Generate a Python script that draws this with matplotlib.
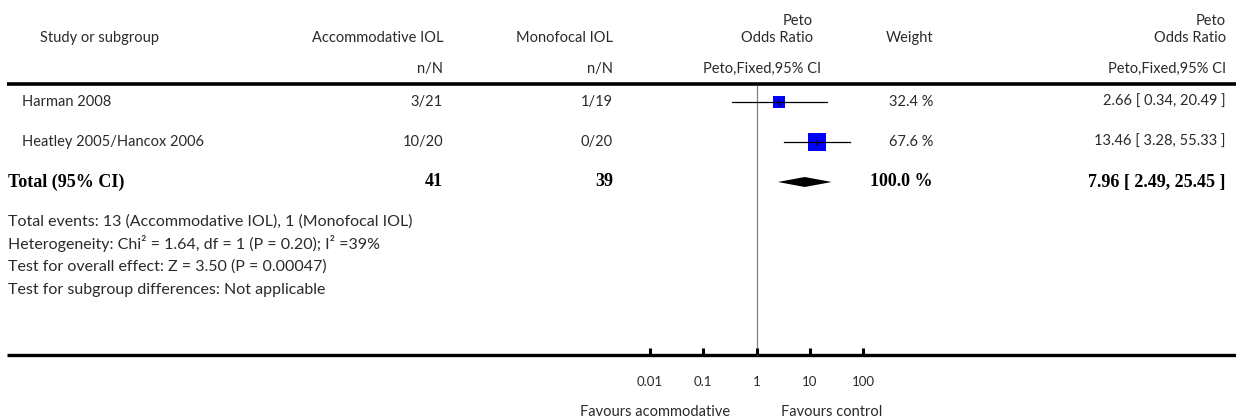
import matplotlib.pyplot as plt
import numpy as np

W, H = 1236, 420

# study level data
studies = ["Harman 2008", "Heatley 2005/Hancox 2006"]
events_accom = ["3/21", "10/20"]
events_mono = ["1/19", "0/20"]
odds_ratio = [2.66, 13.46]
ci_low = [0.34, 3.28]
ci_high = [20.49, 55.33]
weights = [32.4, 67.6]

# pooled result
total_n_accom = 41
total_n_mono = 39
total_or = 7.96
total_low = 2.49
total_high = 25.45
total_weight = 100.0

footnotes = [
    "Total events: 13 (Accommodative IOL), 1 (Monofocal IOL)",
    "Heterogeneity: Chi\u00b2 = 1.64, df = 1 (P = 0.20); I\u00b2 =39%",
    "Test for overall effect: Z = 3.50 (P = 0.00047)",
    "Test for subgroup differences: Not applicable",
]
axis_ticks = [0.01, 0.1, 1, 10, 100]
axis_tick_labels = ["0.01", "0.1", "1", "10", "100"]
favours = ["Favours acommodative", "Favours control"]

# layout, in pixels from the top left corner
row_y = [102, 142]
total_y = 182
foot_y = [222, 244, 267, 290]
top_rule, bottom_rule = 84, 355
col_accom, col_mono, col_weight, col_ci = 443, 613, 933, 1226
decade_px = 53.33
one_px = 756.7

FONT = ["Lato", "DejaVu Sans"]
TXT = "#2a2a2a"
small = dict(family=FONT, fontsize=10.5, color=TXT, va="center")
foot = dict(small, fontsize=11.5)
tick_kw = dict(small, fontsize=9.5)
bold = dict(family=["Liberation Serif", "DejaVu Serif"], fontsize=13,
            fontweight="bold", color="black", va="center")

fig = plt.figure(figsize=(W / 100, H / 100), dpi=100)
ax = fig.add_axes([0, 0, 1, 1])
ax.set_xlim(0, W)
ax.set_ylim(H, 0)
ax.axis("off")

# log-scaled panel for the forest plot
left_px = one_px - 2.5 * decade_px
fx = fig.add_axes([left_px / W, 0, 5 * decade_px / W, 1])
fx.set_xscale("log")
fx.set_xlim(10 ** -2.5, 10 ** 2.5)
fx.set_ylim(H, 0)
fx.axis("off")
fx.patch.set_alpha(0)

# headers
ax.text(100, 38, "Study or subgroup", ha="center", **small)
ax.text(col_accom, 38, "Accommodative IOL", ha="right", **small)
ax.text(col_accom, 69, "n/N", ha="right", **small)
ax.text(col_mono, 38, "Monofocal IOL", ha="right", **small)
ax.text(col_mono, 69, "n/N", ha="right", **small)
ax.text(813, 21, "Peto", ha="right", **small)
ax.text(813, 38, "Odds Ratio", ha="right", **small)
ax.text(821, 69, "Peto,Fixed,95% CI", ha="right", **small)
ax.text(col_weight, 38, "Weight", ha="right", **small)
ax.text(col_ci, 21, "Peto", ha="right", **small)
ax.text(col_ci, 38, "Odds Ratio", ha="right", **small)
ax.text(col_ci, 69, "Peto,Fixed,95% CI", ha="right", **small)

ax.plot([7, W], [top_rule, top_rule], color="black", lw=2.6, solid_capstyle="butt")
ax.plot([7, W], [bottom_rule, bottom_rule], color="black", lw=2.4, solid_capstyle="butt")

# study rows
for i, y in enumerate(row_y):
    ax.text(22, y, studies[i], ha="left", **small)
    ax.text(col_accom, y, events_accom[i], ha="right", **small)
    ax.text(col_mono, y, events_mono[i], ha="right", **small)
    ax.text(col_weight, y, f"{weights[i]:.1f} %", ha="right", **small)
    ax.text(col_ci, y, f"{odds_ratio[i]:.2f} [ {ci_low[i]:.2f}, {ci_high[i]:.2f} ]",
            ha="right", **small)
    side = 20.7 * np.sqrt(weights[i] / 100)
    fx.plot(odds_ratio[i], y, marker="s", ms=side * 72 / 100, color="#0000ff",
            mec="#0000ff", mew=0, zorder=3)
    fx.plot([ci_low[i], ci_high[i]], [y, y], color="black", lw=0.9, zorder=4)
    fx.plot([odds_ratio[i]] * 2, [y - 2.5, y + 2.5], color="black", lw=0.7, zorder=4)

# pooled row
ax.text(8, total_y, "Total (95% CI)", ha="left", **bold)
ax.text(col_accom, total_y, str(total_n_accom), ha="right", **bold)
ax.text(col_mono, total_y, str(total_n_mono), ha="right", **bold)
ax.text(col_weight, total_y, f"{total_weight:.1f} %", ha="right", **bold)
ax.text(col_ci, total_y, f"{total_or:.2f} [ {total_low:.2f}, {total_high:.2f} ]",
        ha="right", **bold)
fx.fill([total_low, total_or, total_high, total_or],
        [total_y, total_y - 5, total_y, total_y + 5], color="black", lw=0, zorder=3)

for y, line in zip(foot_y, footnotes):
    ax.text(8, y, line, ha="left", **foot)

# line of no effect and the scale
fx.plot([1, 1], [top_rule + 2, bottom_rule], color="#808080", lw=0.9, zorder=1)
for t, lab in zip(axis_ticks, axis_tick_labels):
    fx.plot([t, t], [bottom_rule - 7, bottom_rule], color="black", lw=2.2,
            solid_capstyle="butt")
    fx.text(t, 382, lab, ha="center", **tick_kw)

ax.text(730, 412, favours[0], ha="right", **small)
ax.text(781, 412, favours[1], ha="left", **small)

fig.savefig("out.png", dpi=100)
